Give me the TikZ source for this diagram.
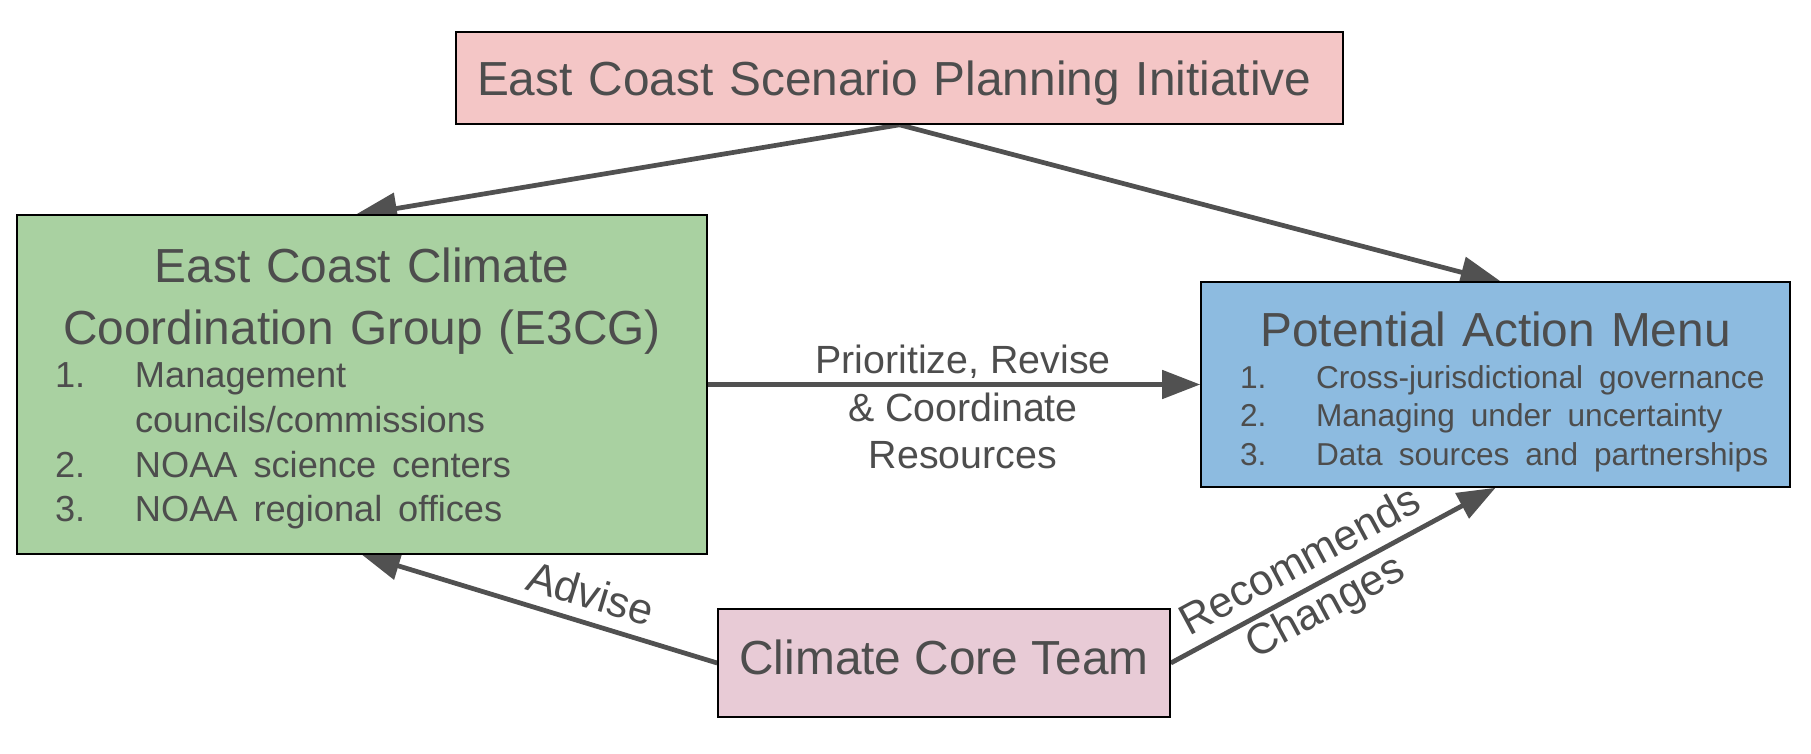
\documentclass[tikz,border=0pt]{standalone}
\usepackage{fontspec}
\setmainfont{Liberation Sans}
\usepackage{tikz}
\usetikzlibrary{positioning, arrows.meta, backgrounds}
\usepackage{xcolor}
\definecolor{ecgray}{HTML}{4D4D4D}
\definecolor{eclink}{HTML}{515151}
\definecolor{ecrose}{HTML}{F4C6C6}
\definecolor{ecgreen}{HTML}{A9D1A1}
\definecolor{ecblue}{HTML}{8DBBE0}
\definecolor{ecmauve}{HTML}{E8CBD6}

\begin{document}
\begin{tikzpicture}[font=\fontsize{13.6}{16.5}\selectfont, text=ecgray,
  >={Triangle[length=3.8mm, width=2.8mm]},
  box/.style={draw=black, line width=0.45pt, inner sep=0pt},
  link/.style={draw=eclink, line width=1.35pt},
  biglink/.style={link, -{Triangle[length=4.3mm, width=3.1mm]}, shorten >=-0.08cm},
  lbl/.style={font=\fontsize{12.3}{14.8}\selectfont, text=ecgray}]
\useasboundingbox (0,0) rectangle (18.11,7.53);
% boxes
\node[box, fill=ecrose, minimum width=8.87cm, minimum height=0.92cm, text width=8.45cm, text depth=0pt, align=left] (scen) at (8.995,6.75) {East Coast Scenario Planning Initiative};
\node[box, fill=ecgreen, minimum width=6.9cm, minimum height=3.39cm, text width=6.14cm, align=left] (eccg) at (3.62,3.685) {%
  {\centering\fontsize{13.6}{17.5}\selectfont \rule{0pt}{14pt}East Coast Climate\\Coordination Group (E3CG)\par}
  \vspace{-0.6pt}
  {\fontsize{10.3}{12.8}\selectfont
  \begin{tabular}{@{}p{0.8cm}@{}l@{}}
  1. & Management\\
     & councils/commissions\\
  2. & NOAA science centers\\
  3. & NOAA regional offices
  \end{tabular}\par}};
\node[box, fill=ecblue, minimum width=5.89cm, minimum height=2.05cm, text width=5.11cm, align=left] (menu) at (14.955,3.685) {%
  {\centering\rule{0pt}{15.6pt}Potential Action Menu\par}
  \vspace{3pt}
  {\fontsize{9}{11}\selectfont
  \begin{tabular}{@{}p{0.76cm}@{}l@{}}
  1. & Cross-jurisdictional governance\\
  2. & Managing under uncertainty\\
  3. & Data sources and partnerships
  \end{tabular}\par}};
\node[box, fill=ecmauve, minimum width=4.52cm, minimum height=1.08cm, text depth=0.12cm] (core) at (9.44,0.90) {Climate Core Team};
% links
\begin{scope}[on background layer]
\draw[biglink] (scen.south) -- (eccg.north);
\draw[biglink] (scen.south) -- (menu.north);
\draw[link, ->] (eccg.east) -- node[lbl, font=\fontsize{11.2}{13.4}\selectfont, align=center, xshift=0.09cm, yshift=-0.225cm] {Prioritize, Revise\\\& Coordinate\\Resources} (menu.west);
\draw[link, <-] (eccg.south) -- node[lbl, sloped, above, pos=0.62] {Advise} (core.west);
\draw[link, ->] (core.east) -- node[lbl, sloped, align=center, pos=0.44] {Recommends\\Changes} (menu.south);
\end{scope}
\end{tikzpicture}
\end{document}
